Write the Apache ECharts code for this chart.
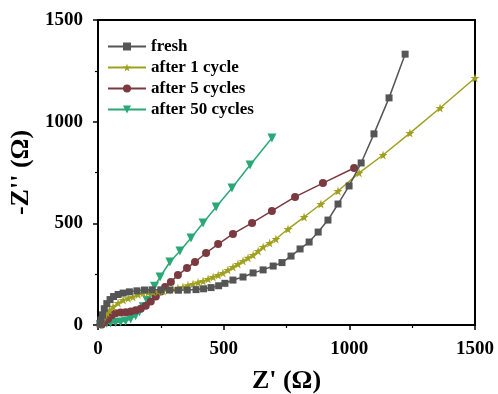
<!DOCTYPE html>
<html>
<head>
<meta charset="utf-8">
<script src="https://cdn.jsdelivr.net/npm/echarts@6/dist/echarts.min.js"></script>
<style>
html, body { margin: 0; padding: 0; background: #fff; }
#chart { width: 498px; height: 394px; }
</style>
</head>
<body>
<div id="chart"></div>
<script>
// 图例名称
var seriesNames = ['fresh', 'after 1 cycle', 'after 5 cycles', 'after 50 cycles'];

// fresh
var freshX = [8, 12, 18, 25, 35, 48, 62, 80, 100, 125, 155, 185, 215, 250, 285, 320, 355, 390, 420, 450, 480, 505, 537, 577, 617, 657, 697, 732, 768, 804, 840, 876, 915, 955, 999, 1047, 1098, 1158, 1222];
var freshY = [5, 25, 50, 80, 105, 125, 140, 150, 157, 163, 168, 172, 173, 173, 172, 171, 172, 174, 178, 184, 193, 205, 221, 236, 256, 271, 290, 307, 339, 374, 408, 457, 516, 595, 684, 797, 940, 1117, 1332];

// after 1 cycle
var c1X = [8, 12, 16, 22, 28, 36, 45, 60, 80, 100, 120, 139, 159, 179, 199, 219, 239, 259, 279, 298, 318, 338, 358, 378, 398, 418, 438, 458, 478, 497, 517, 537, 557, 577, 597, 617, 637, 657, 683, 708, 756, 820, 887, 955, 1039, 1134, 1241, 1361, 1500];
var c1Y = [5, 15, 25, 40, 50, 59, 72, 89, 108, 123, 131, 138, 150, 157, 160, 162, 165, 167, 172, 177, 182, 187, 195, 202, 209, 216, 226, 236, 246, 256, 270, 285, 300, 315, 330, 344, 364, 384, 403, 423, 472, 531, 595, 659, 748, 836, 944, 1067, 1215];

// after 5 cycles
var c5X = [15, 25, 40, 55, 70, 90, 110, 130, 150, 170, 190, 210, 230, 250, 267, 290, 318, 354, 386, 430, 478, 537, 613, 692, 784, 895, 1019];
var c5Y = [3, 15, 30, 48, 58, 62, 63, 66, 72, 80, 95, 115, 140, 165, 187, 211, 246, 280, 310, 354, 398, 448, 502, 561, 630, 698, 772];

// after 50 cycles
var c50X = [10, 20, 35, 50, 70, 90, 110, 130, 150, 165, 180, 195, 210, 225, 247, 286, 326, 370, 418, 470, 533, 605, 692];
var c50Y = [2, 5, 8, 10, 12, 15, 20, 30, 45, 65, 90, 120, 155, 190, 236, 310, 364, 428, 502, 580, 674, 787, 920];

// 坐标轴刻度
var xTicks = [0, 500, 1000, 1500];
var yTicks = [0, 500, 1000, 1500];

var FONT = 'Liberation Serif';
var STAR = 'path://M50,0 L61,35 98,35 68,57 79,91 50,70 21,91 32,57 2,35 39,35Z';

var _pairs = function(xs, ys) {
	var out = [];
	for(var i = 0; i < xs.length; i++) {
		out.push([xs[i], ys[i]]);
	}
	return out;
};

var _axis = function(ticks, name, gap, margin) {
	return {
		type: 'value',
		min: ticks[0],
		max: ticks[ticks.length - 1],
		interval: ticks[1] - ticks[0],
		name: name,
		nameLocation: 'middle',
		nameGap: gap,
		nameTextStyle: { fontFamily: FONT, fontWeight: 'bold', fontSize: 26, color: '#000' },
		axisLine: { show: true, lineStyle: { color: '#000', width: 2 } },
		axisTick: { show: true, inside: false, length: 5, lineStyle: { color: '#000', width: 1.5 } },
		minorTick: { show: true, splitNumber: 2, length: 3, lineStyle: { color: '#000', width: 1.2 } },
		splitLine: { show: false },
		axisLabel: {
			fontFamily: FONT, fontWeight: 'bold', fontSize: 19, color: '#000', margin: margin,
			formatter: function(v) { return String(v); }
		}
	};
};

var colors = ['#555555', '#a0a020', '#7a3a40', '#2aa877'];
var symbols = ['rect', STAR, 'circle', 'triangle'];
var sizes = [7, 9, 8, 9];
var rotates = [0, 0, 0, 180];
var datas = [_pairs(freshX, freshY), _pairs(c1X, c1Y), _pairs(c5X, c5Y), _pairs(c50X, c50Y)];

var series = [];
for(var i = 0; i < seriesNames.length; i++) {
	series.push({
		name: seriesNames[i],
		type: 'line',
		data: datas[i],
		symbol: symbols[i],
		symbolSize: sizes[i],
		symbolRotate: rotates[i],
		showAllSymbol: true,
		color: colors[i],
		lineStyle: { color: colors[i], width: 1.5 },
		itemStyle: { color: colors[i] },
		z: 10 - i
	});
}

var xAxis = _axis(xTicks, "Z' (\u03a9)", 43, 15);
var yAxis = _axis(yTicks, "-Z'' (\u03a9)", 58, 15);
yAxis.nameRotate = 90;

var chart = echarts.init(document.getElementById('chart'));
chart.setOption({
	animation: false,
	backgroundColor: '#fff',
	grid: {
		left: 98, right: 23, top: 20, bottom: 69,
		outerBoundsMode: 'none',
		show: true, borderColor: '#000', borderWidth: 2, backgroundColor: 'transparent'
	},
	legend: {
		orient: 'vertical',
		left: 102,
		top: 33,
		itemWidth: 38,
		itemHeight: 10,
		itemGap: 4,
		textStyle: { fontFamily: FONT, fontWeight: 'bold', fontSize: 17, lineHeight: 17, color: '#000' },
		data: seriesNames
	},
	xAxis: xAxis,
	yAxis: yAxis,
	series: series
});
</script>
</body>
</html>
